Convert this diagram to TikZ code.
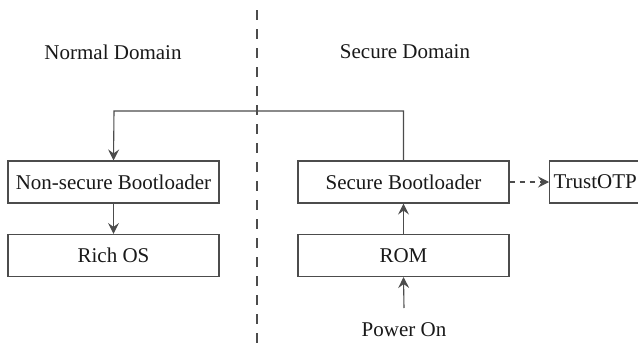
\documentclass[tikz,border=0pt]{standalone}
\usepackage{fontspec}
\setmainfont{Liberation Serif}
\usetikzlibrary{arrows.meta}
\begin{document}
\begin{tikzpicture}[x=1pt,y=-1pt,
  line width=1.1pt,
  every node/.style={font=\fontsize{21}{25}\selectfont,text=black!90},
  box/.style={draw=black!70,rectangle,minimum width=211pt,minimum height=42pt,inner sep=0pt},
  conn/.style={draw=black!70,-{Stealth[length=11pt,width=11pt,inset=4pt]}}]
\useasboundingbox (0,0) rectangle (638,348);
\fill[white] (0,0) rectangle (638,348);
\node (nb) [box] at (113.5,182) {Non-secure Bootloader};
\node (ros) [box] at (113.5,255.5) {Rich OS};
\node (sb) [box] at (403.5,182) {Secure Bootloader};
\node (rom) [box] at (403.5,255.5) {ROM};
\node (otp) [draw=black!70,rectangle,minimum height=42pt,inner xsep=4pt,text width=94pt,align=left,anchor=west] at (549,182) {TrustOTP};
\node (pwr) at (404,330) {Power On};
\node (nd) at (113,52) {Normal Domain};
\node (sd) at (405,52) {Secure Domain};
\coordinate (dt) at (257,10);
\coordinate (db) at (257,348);
\coordinate (pt) at (404,308);
\draw[black!70,dash pattern=on 10pt off 9pt] (dt) -- (db);
\draw[conn] (sb.north) |- (114,111) -- (nb.north);
\draw[conn] (nb) -- (ros);
\draw[conn] (rom) -- (sb);
\draw[conn] (pt) -- (rom.south);
\draw[conn,dash pattern=on 5pt off 5pt] (sb) -- (otp);
\end{tikzpicture}
\end{document}
